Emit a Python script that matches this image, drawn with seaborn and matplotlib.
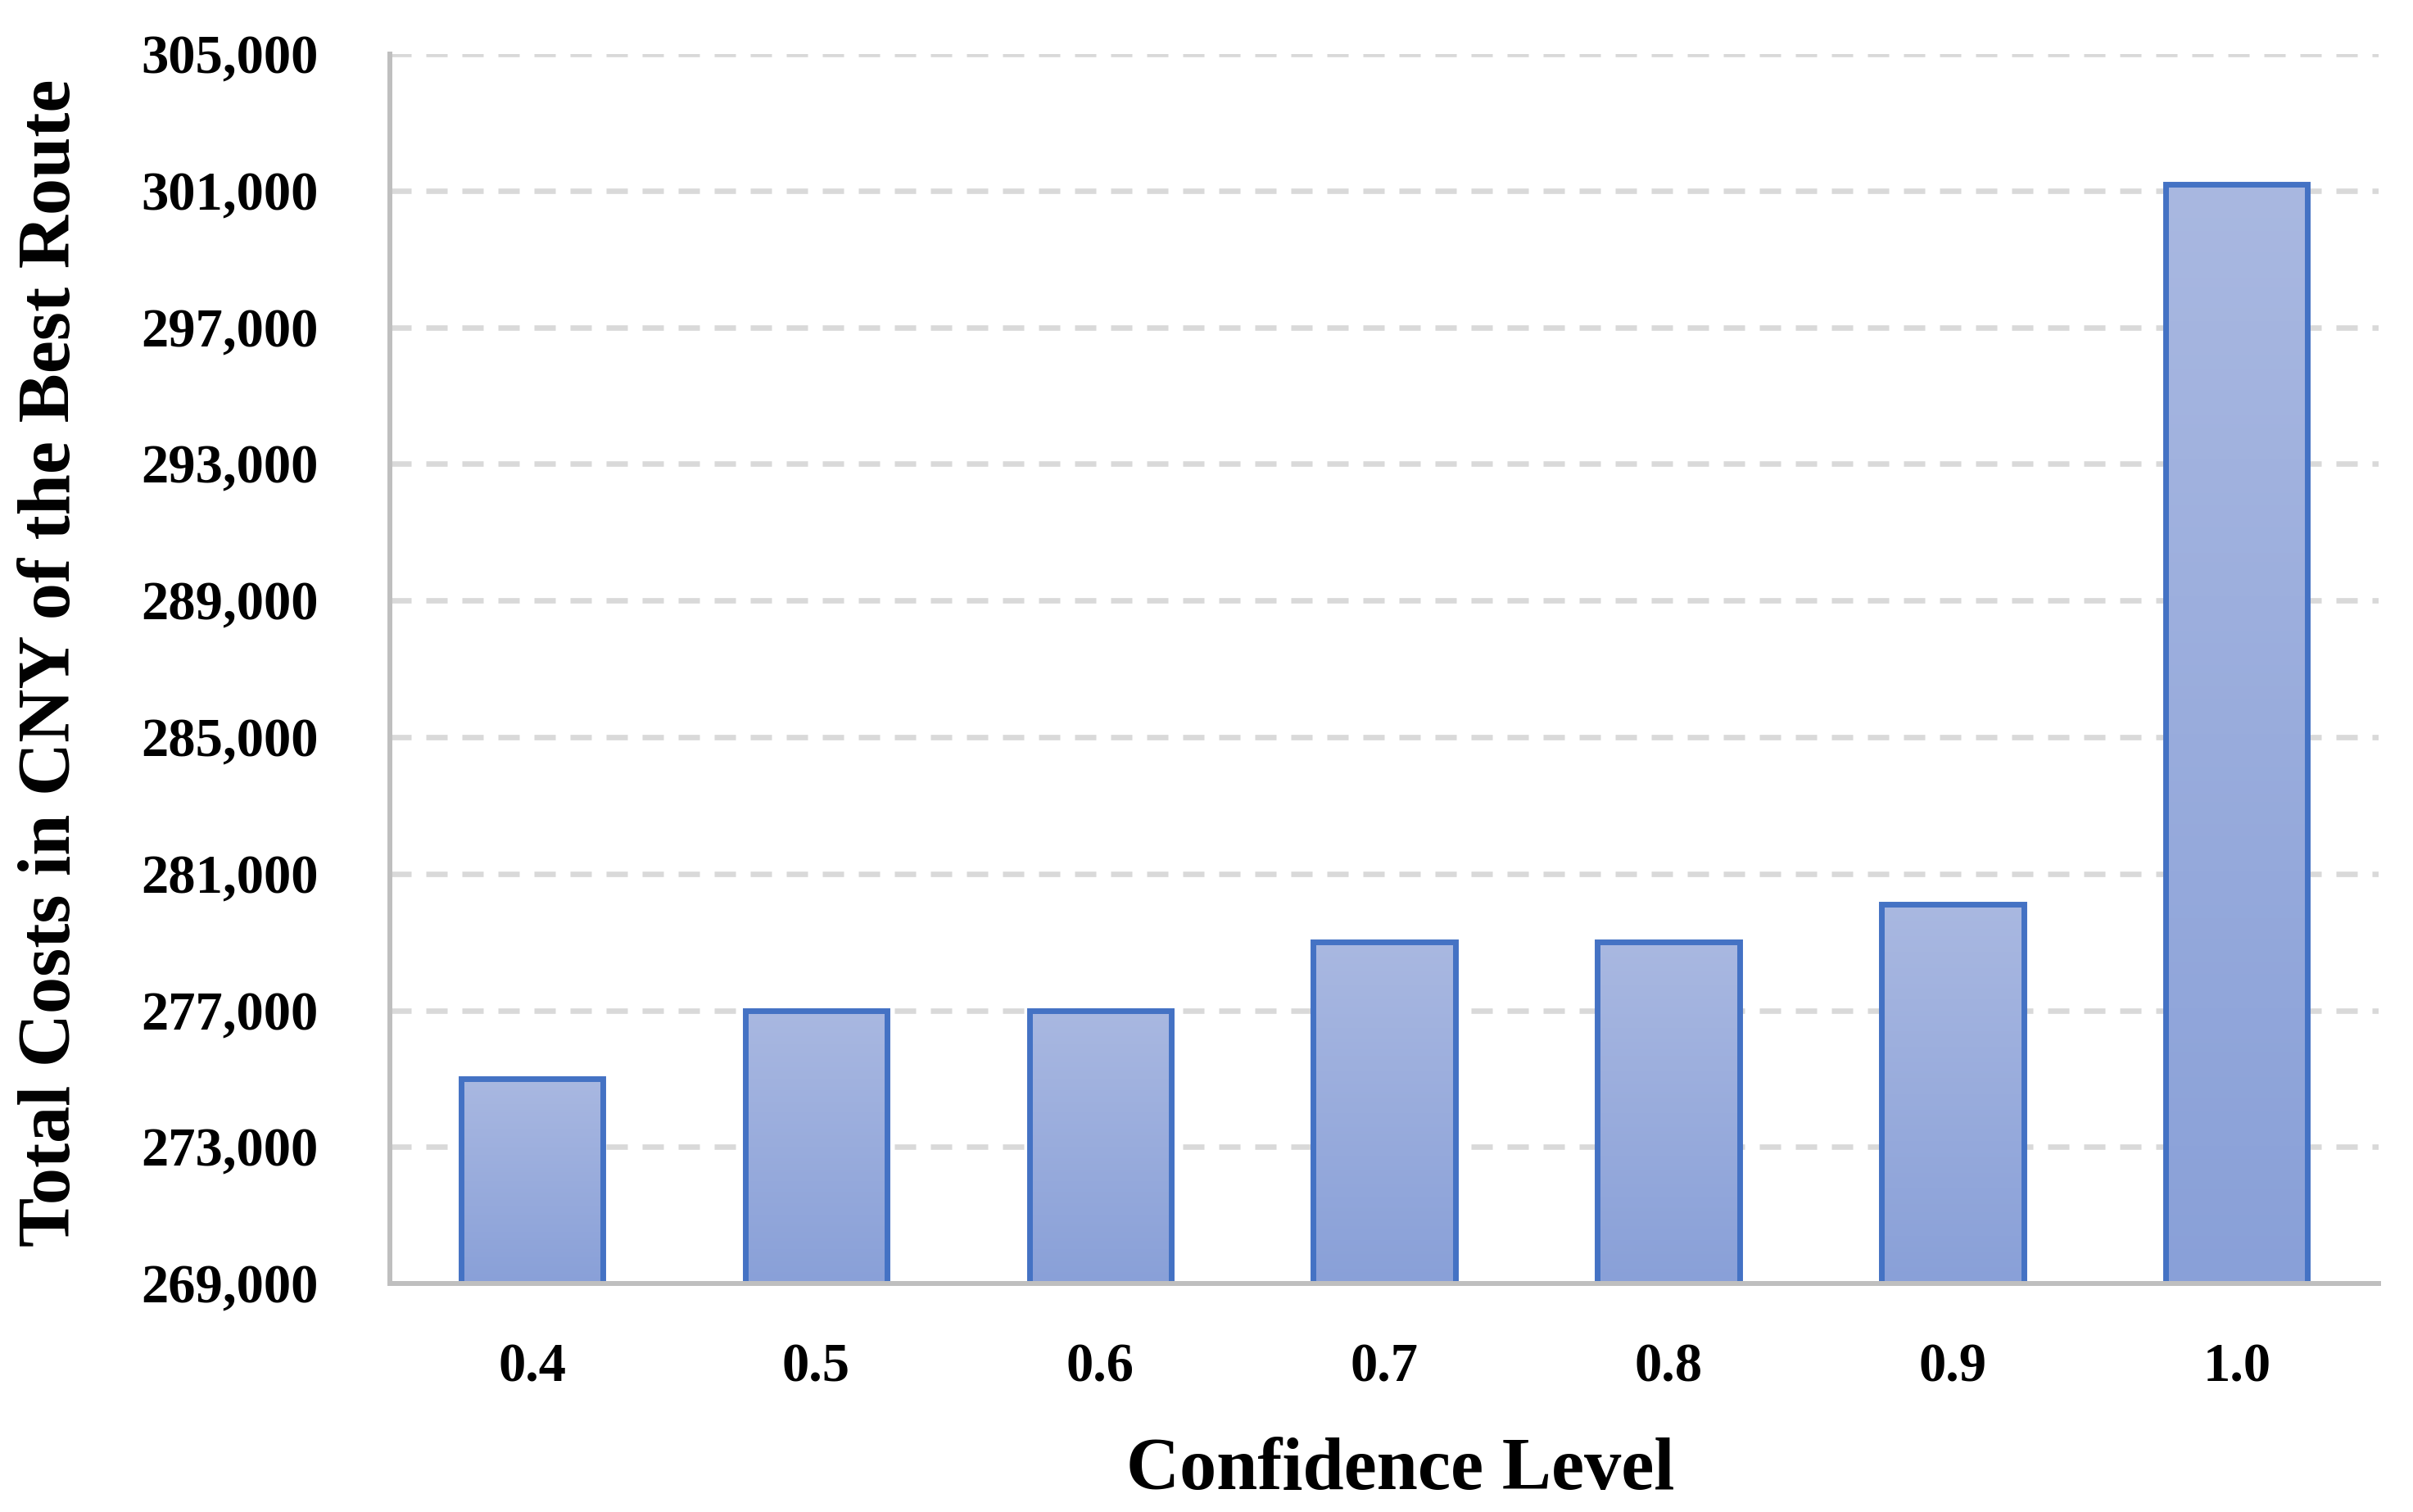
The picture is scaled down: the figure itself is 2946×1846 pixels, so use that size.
import numpy as np
import matplotlib
matplotlib.use("Agg")
import matplotlib.pyplot as plt
import matplotlib.ticker as mticker
from matplotlib.colors import LinearSegmentedColormap
import seaborn as sns

# dados
niveis = ['0.4', '0.5', '0.6', '0.7', '0.8', '0.9', '1.0']
custos = [275000, 277000, 277000, 279000, 279000, 280100, 301200]
y_min, y_max, y_passo = 269000, 305000, 4000

sns.set_style("white")
plt.rcParams['font.family'] = ['Liberation Serif', 'DejaVu Serif']
plt.rcParams['font.weight'] = 'bold'
plt.rcParams['text.color'] = 'black'
plt.rcParams['axes.labelcolor'] = 'black'
plt.rcParams['xtick.color'] = 'black'
plt.rcParams['ytick.color'] = 'black'

cor_borda = '#4472C4'
cor_topo = '#A9B8E1'
cor_base = '#89A0D8'

fig = plt.figure(figsize=(29.46, 18.46), dpi=100)
ax = fig.add_axes([0.1616, 0.1511, 0.8242, 0.8131])

sns.barplot(x=niveis, y=custos, color=cor_topo, saturation=1, width=0.5,
            edgecolor=cor_borda, linewidth=5, ax=ax)

ax.set_ylim(y_min, y_max)
ax.set_xlim(-0.5, len(niveis) - 0.5)

# gradiente em cada barra (claro em cima, mais escuro em baixo)
cmap = LinearSegmentedColormap.from_list('grad', [cor_base, cor_topo])
grad = np.linspace(0, 1, 256).reshape(-1, 1)
for p in ax.patches:
    x0 = p.get_x()
    x1 = x0 + p.get_width()
    topo = p.get_y() + p.get_height()
    im = ax.imshow(grad, cmap=cmap, origin='lower', aspect='auto',
                   extent=[x0, x1, y_min, topo], zorder=p.get_zorder() - 0.05)
    im.set_clip_path(p)
    p.set_facecolor('none')

ax.set_ylim(y_min, y_max)
ax.set_xlim(-0.5, len(niveis) - 0.5)

ax.yaxis.set_major_locator(mticker.FixedLocator(np.arange(y_min, y_max + 1, y_passo)))
ax.yaxis.set_major_formatter(mticker.StrMethodFormatter('{x:,.0f}'))

ax.set_axisbelow(True)
ax.yaxis.grid(True, color='#D9D9D9', linewidth=4.8, linestyle=(0, (3.9, 2.7)))
ax.xaxis.grid(False)

for lado in ['top', 'right']:
    ax.spines[lado].set_visible(False)
for lado in ['left', 'bottom']:
    ax.spines[lado].set_color('#BFBFBF')
    ax.spines[lado].set_linewidth(4.3)

ax.tick_params(axis='y', length=0, pad=63, labelsize=48, labelcolor='black')
ax.tick_params(axis='x', length=0, pad=52, labelsize=48, labelcolor='black')
for t in ax.get_xticklabels() + ax.get_yticklabels():
    t.set_fontweight('bold')

ax.set_xlabel('Confidence Level', fontsize=65, fontweight='bold', color='black')
ax.xaxis.label.set_va('baseline')
ax.xaxis.set_label_coords(0.508, -0.1672)

ax.set_ylabel('Total Costs in CNY of the Best Route', fontsize=65, fontweight='bold',
              color='black')
ax.yaxis.label.set_va('baseline')
ax.yaxis.set_label_coords(-0.161, 0.505)

fig.savefig('out.png', dpi=100, facecolor='white')
